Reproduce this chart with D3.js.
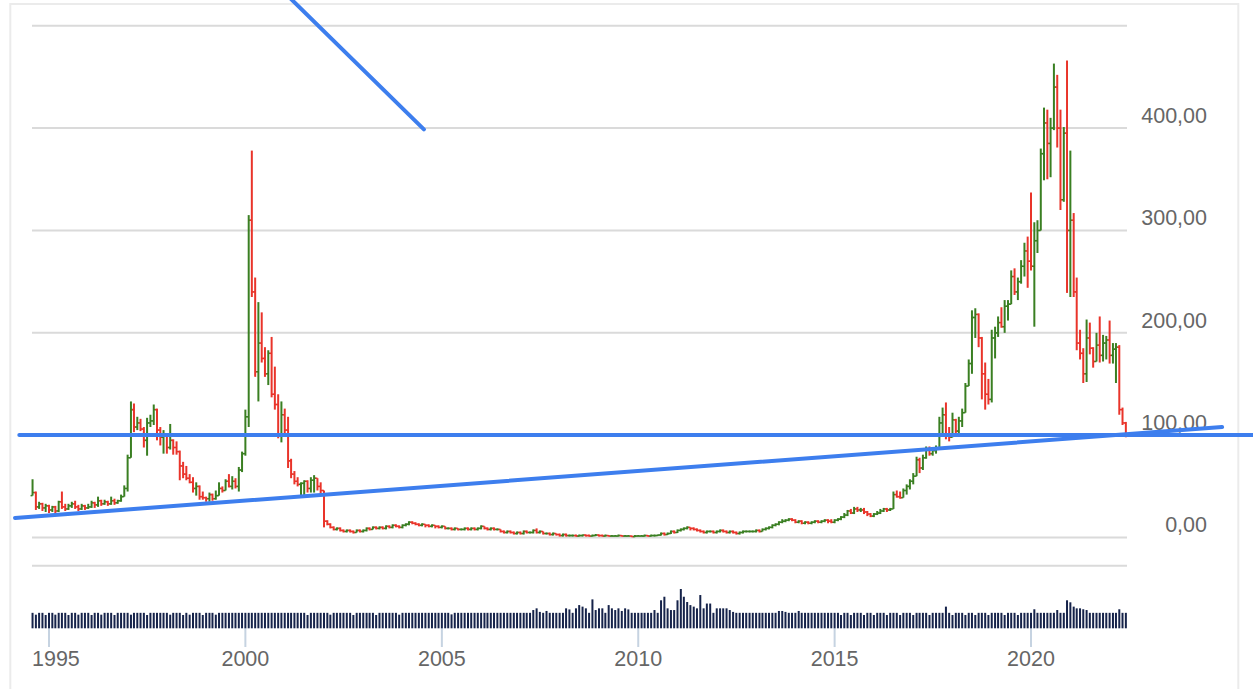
<!DOCTYPE html>
<html><head><meta charset="utf-8">
<script src="https://cdn.jsdelivr.net/npm/d3@7"></script>
<style>html,body{margin:0;padding:0;background:#fff;overflow:hidden}</style>
</head><body><svg id="chart" width="1253" height="689"></svg>
<script>
// ---------- DATA ----------
const startMonth = new Date(1994, 7, 1);   // first monthly bar: Aug 1994
const firstOpen = 41;
const closes = [44,30,33,29,31,27,30,26,35,30,
28,31,33,30,28,31,29,30,34,32,
36,33,35,33,36,34,36,40,48,78,
125,108,112,106,95,112,114,125,105,98,
100,88,95,88,84,70,62,58,54,48,
50,40,39,38,42,38,41,48,46,55,
50,55,50,66,82,118,310,240,162,190,
175,160,180,140,130,100,120,105,75,62,
55,52,53,55,48,56,58,50,46,16,
13,10,8,9,7,6,7,6,5,7,
6,7,9,8,10,9,10,9,11,10,
12,11,10,12,13,15,14,13,12,13,
12,11,12,11,10,11,9,9,8,9,
8,8,9,8,9,8,9,11,9,8,
9,8,8,6,5,6,5,4,5,4,
6,5,5,7,5,6,4,4,3,4,
3,2,3,2,2,2,1.5,2,2.5,2,
1.5,2,2.5,2,1.5,2,1.5,1.5,1.5,2,
1.5,1.5,1.5,1,1.5,1.5,1.5,2,1.5,2,
2,2.5,4,3,4,6,5,7,8,9,
10,9,8,7,6,5,6,6,5,6,
7,6,5,6,5,4,5,6,6,6,
6,7,6,8,9,10,12,13,15,16,
17,18,17,15,16,14,15,14,15,16,
15,16,17,16,15,17,18,20,22,26,
24,28,27,27,25,23,21,23,24,26,
28,27,28,42,40,39,46,50,55,60,
76,68,78,86,82,85,87,112,120,100,
98,115,104,114,122,148,170,215,218,195,
160,140,135,195,200,210,206,226,228,255,
240,250,265,280,270,265,290,300,375,405,
385,400,440,400,330,395,300,310,240,190,
180,160,195,185,172,188,178,190,193,178,
184,186,125,112,101];
const highs = [57,45,35,34,33,32,31,31,36,45,
33,33,35,36,32,33,32,33,36,35,
40,37,37,36,40,38,37,42,51,81,
133,131,118,116,108,117,120,130,126,108,
105,102,111,96,94,85,74,70,62,59,
54,51,45,40,44,43,46,54,50,57,
62,60,58,69,84,125,315,378,254,230,
220,186,183,196,167,140,133,126,118,77,
65,59,54,56,56,59,61,58,54,46,
17,14,11,10,10,8,8,8,7,8,
8,8,10,10,11,11,11,11,12,12,
13,13,12,13,14,16,16,15,14,14,
13,13,13,12,12,12,11,10,10,10,
9,9,10,10,10,10,10,12,11,10,
10,10,9,8,7,7,7,6,6,6,
7,7,6,8,9,7,6,5,5,5,
4,4,4,4,3,3,3,3,3,3,
3,3,3.5,3,3,3,2.5,2.5,2.5,3,
2.5,2.5,2.5,2,2.5,2.5,2.5,3,2.5,3,
3,3,5,5,5,7,7,8,9,10,
11,10,10,9,8,7,7,7,7,7,
8,8,7,7,7,6,6,7,7,7,
7,8,8,9,10,11,13,14,16,18,
18,19,19,18,17,17,16,16,16,17,
17,17,18,18,18,18,19,21,24,27,
28,30,30,29,29,26,24,24,26,28,
29,29,29,45,46,45,48,52,57,63,
79,78,81,89,89,88,90,118,127,132,
108,122,116,118,126,151,174,222,224,219,
196,171,155,203,206,216,225,232,232,261,
263,254,271,288,294,337,308,310,380,420,
418,410,463,452,418,401,466,378,317,254,
203,185,213,210,186,200,216,198,197,212,
190,190,188,127,113];
const lows = [41,27,28,26,25,24,25,24,25,28,
26,27,29,28,26,27,27,28,29,29,
30,31,32,31,32,32,33,35,40,45,
78,103,105,104,88,80,108,110,95,90,
82,82,86,81,81,56,58,56,53,44,
41,37,37,35,35,36,37,41,44,46,
49,47,48,45,64,80,108,235,157,133,
171,157,149,137,125,97,93,102,68,58,
52,50,39,41,44,44,44,46,41,10,
12,9,7,7,6,5,5,5,4,5,
5,5,6,7,8,8,8,8,8,9,
9,10,9,9,11,12,13,12,11,11,
10,10,10,9,9,9,8,8,7,7,
7,7,7,7,7,7,7,8,8,7,
7,7,7,5,4,4,4,3,3,3,
3,4,4,4,4,4,3,3,2,2,
2,1,1,1,1,1,1,1,1,1,
1,1,1.5,1,1,1,1,1,1,1,
1,1,1,0.5,0.5,1,1,1,1,1,
1,1.5,2,2,2.5,3.5,4,4.5,6,7,
8,7,7,6,5,4,4,5,4,4,
5,5,4,4,4,3,3,4,5,5,
5,5,5,6,7,8,9,11,12,14,
15,16,16,14,14,13,13,13,13,14,
14,14,15,14,14,14,16,17,19,21,
23,23,25,25,23,21,20,20,22,23,
25,25,26,28,39,38,39,42,47,52,
60,63,66,77,80,80,82,86,102,96,
94,98,100,102,108,122,148,160,195,186,
135,125,130,132,175,196,205,200,212,228,
237,232,248,255,244,261,206,278,300,349,
350,352,398,381,320,328,239,235,235,183,
174,151,152,179,166,172,171,172,174,170,
170,151,120,110,98];
const volumes = [100,88,100,100,86,100,100,88,100,100,100,86,100,100,88,100,100,100,86,100,
100,88,100,100,100,86,100,100,100,100,88,100,100,100,100,86,100,100,100,100,
100,100,88,100,100,100,86,100,88,100,100,100,86,100,100,100,88,100,100,100,
100,100,100,100,100,100,100,100,100,100,100,100,100,100,100,100,100,100,100,100,
100,100,100,100,86,100,100,100,100,100,100,88,100,100,100,100,100,100,86,100,
100,100,100,100,100,86,100,100,100,100,100,100,88,100,100,100,100,100,100,100,
100,100,100,100,100,100,100,100,90,100,100,100,100,100,100,100,100,100,100,100,
100,100,100,100,100,100,100,100,100,100,100,100,100,118,129,106,100,112,100,100,
100,100,100,129,122,100,129,150,140,129,100,187,118,129,129,100,150,129,118,129,
112,129,122,100,100,100,100,100,100,100,118,100,181,204,129,118,118,181,254,204,
170,150,140,129,215,129,160,160,100,129,129,129,129,118,106,100,100,100,100,100,
100,100,100,100,100,100,100,100,112,112,106,100,100,100,112,100,100,100,100,100,
100,100,100,100,100,100,100,86,100,100,86,100,100,100,86,100,100,86,100,100,
100,86,100,100,100,86,100,100,100,86,100,100,100,100,86,100,100,100,100,140,
100,86,100,100,100,86,100,100,86,100,100,100,86,100,100,100,100,86,100,100,
100,86,100,100,100,100,123,100,100,100,100,100,100,118,100,100,181,168,140,129,
129,123,118,100,100,100,100,100,100,100,100,100,123,100,100];
const yTickValues = [0, 100, 200, 300, 400];
const yTickLabels = ["0,00", "100,00", "200,00", "300,00", "400,00"];
const gridValues = [-27.6, 0, 100, 200, 300, 400, 500];
const xTickYears = [1995, 2000, 2005, 2010, 2015, 2020];
const horizontalLine = [[new Date(1994, 2, 31), 100.3], [new Date(2026, 6, 1), 100.3]];
const supportLine = [[new Date(1994, 1, 19), 19.2], [new Date(2024, 10, 12), 108.0]];
const diagonalLine = [[new Date(2000, 11, 5), 534.9], [new Date(2004, 6, 18), 398.8]];

// ---------- CHART ----------
const svg = d3.select("#chart");
const FONT = "'Liberation Sans', Arial, sans-serif";
const months = d3.timeMonth.range(startMonth, d3.timeMonth.offset(startMonth, closes.length));
const bars = months.map((d, i) => ({
  date: d, open: i === 0 ? firstOpen : closes[i - 1], close: closes[i],
  high: highs[i], low: lows[i], vol: volumes[i]
}));

const x = d3.scaleTime().domain([new Date(1995, 0, 1), new Date(2020, 0, 1)]).range([49, 1031]);
const y = d3.scaleLinear().domain([0, 500]).range([537.6, 25.7]);
const yVol = d3.scaleLinear().domain([0, 254]).range([628.3, 589]);
const gridX0 = 32, gridX1 = 1127;

// frame
svg.append("rect").attr("x", 10.3).attr("y", 4).attr("width", 1228).attr("height", 720)
  .attr("fill", "none").attr("stroke", "#ebebeb").attr("stroke-width", 2);

// grid
svg.append("g").selectAll("line").data(gridValues).join("line")
  .attr("x1", gridX0).attr("x2", gridX1)
  .attr("y1", d => y(d)).attr("y2", d => y(d))
  .attr("stroke", "#dadada").attr("stroke-width", 2);

// y labels
svg.append("g").selectAll("text").data(yTickValues).join("text")
  .attr("x", 1207).attr("y", d => y(d) - 5.3)
  .attr("text-anchor", "end")
  .attr("font-family", FONT).attr("font-size", 21.5).attr("fill", "#666")
  .text((d, i) => yTickLabels[i]);

// x ticks
const xTickDates = xTickYears.map(yr => new Date(yr, 0, 1));
svg.append("g").selectAll("line").data(xTickDates).join("line")
  .attr("x1", d => x(d)).attr("x2", d => x(d))
  .attr("y1", 628).attr("y2", 647)
  .attr("stroke", "#c6d3e1").attr("stroke-width", 2);
const xl = svg.append("g").selectAll("text").data(xTickDates).join("text")
  .attr("x", d => x(d)).attr("y", 665.5)
  .attr("text-anchor", "middle")
  .attr("font-family", FONT).attr("font-size", 21.5).attr("fill", "#666")
  .text(d => d.getFullYear());
xl.each(function(d) {
  const w = this.getComputedTextLength();
  if (x(d) - w / 2 < gridX0) d3.select(this).attr("text-anchor", "start").attr("x", gridX0);
});

// volume bars
svg.append("g").selectAll("rect").data(bars).join("rect")
  .attr("x", d => x(d.date) - 1).attr("width", 2)
  .attr("y", d => yVol(d.vol)).attr("height", d => yVol(0) - yVol(d.vol))
  .attr("fill", "#16234a");

// OHLC bars
const GREEN = "#3a7f22", RED = "#e9342a";
const ohlc = svg.append("g").selectAll("g").data(bars).join("g")
  .attr("stroke", d => d.close >= d.open ? GREEN : RED);
ohlc.append("line")
  .attr("x1", d => x(d.date)).attr("x2", d => x(d.date))
  .attr("y1", d => y(Math.max(d.high, d.open, d.close)))
  .attr("y2", d => y(Math.min(d.low, d.open, d.close)))
  .attr("stroke-width", 2);
ohlc.append("line")
  .attr("x1", d => x(d.date) - 2).attr("x2", d => x(d.date))
  .attr("y1", d => y(d.open)).attr("y2", d => y(d.open))
  .attr("stroke-width", 1.5);
ohlc.append("line")
  .attr("x1", d => x(d.date)).attr("x2", d => x(d.date) + 2)
  .attr("y1", d => y(d.close)).attr("y2", d => y(d.close))
  .attr("stroke-width", 1.5);

// drawn trend lines
const line = d3.line().x(d => x(d[0])).y(d => y(d[1]));
[horizontalLine, supportLine, diagonalLine].forEach(pts => {
  svg.append("path").attr("d", line(pts))
    .attr("fill", "none").attr("stroke", "#3d7eee").attr("stroke-width", 4)
    .attr("stroke-linecap", "round");
});
</script>
</body></html>
